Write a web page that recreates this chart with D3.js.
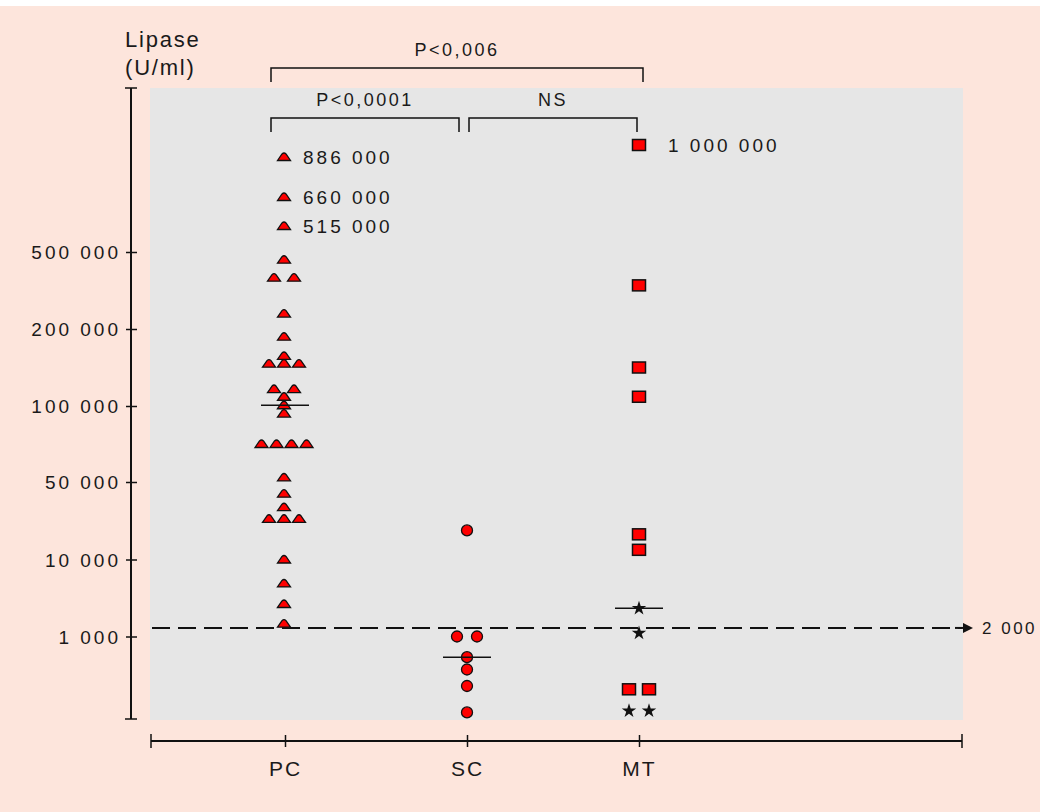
<!DOCTYPE html>
<html>
<head>
<meta charset="utf-8">
<script src="https://cdn.jsdelivr.net/npm/d3@7"></script>
<style>
  body { margin: 0; background: #fff; }
  svg text { font-family: "Liberation Sans", Arial, sans-serif; fill: #1a1a1a; }
</style>
</head>
<body>
<div id="chart"></div>
<script>
const groups = ['PC', 'SC', 'MT'];
const pcValues = [886000, 660000, 515000, 470000, 400000, 400000, 260000, 190000, 165000,
  155000, 155000, 155000, 122000, 122000, 112000, 101000, 95000, 75000, 75000, 75000, 75000,
  53000, 44000, 37000, 31000, 31000, 31000, 10000, 7200, 4800, 2500];
const scValues = [25000, 1000, 1000, 750, 600, 400, 80];
const mtSquares = [1000000, 370000, 150000, 112000, 23000, 15000, 360, 360];
const mtStars = [4300, 1400, 100, 100];
const medians = [101000, 750, 4300];
const yTicks = [1000, 10000, 50000, 100000, 200000, 500000];
const pcLabelled = [886000, 660000, 515000];
const mtLabelled = [1000000];
const cutoff = 2000;
const comparisons = [
  { from: 'PC', to: 'MT', text: 'P<0,006', level: 0 },
  { from: 'PC', to: 'SC', text: 'P<0,0001', level: 1 },
  { from: 'SC', to: 'MT', text: 'NS', level: 1 }
];

const W = 1040, H = 812;
const svg = d3.select('#chart').append('svg')
  .attr('width', W).attr('height', H);

// pink page + grey plot panel
svg.append('rect').attr('x', 0).attr('y', 6).attr('width', W).attr('height', H - 6).attr('fill', '#fde5dc');
svg.append('rect').attr('x', 150).attr('y', 88).attr('width', 813).attr('height', 632).attr('fill', '#e6e6e6');

// broken, piecewise axis: equal steps between ticks, squeezed above 500 000
const y = d3.scaleLinear()
  .domain([0, 1000, 10000, 50000, 100000, 200000, 500000, 515000, 660000, 886000, 1000000])
  .range([719, 636.5, 559.5, 482, 406, 329, 252, 226, 197, 157, 145]);

// group columns are not evenly spaced on the original axis
const x = d3.scaleOrdinal()
  .domain(groups)
  .range([285, 467, 639]);

const fmt = v => d3.format(',')(v).replace(/,/g, ' ');

// y axis
const axisX = 131;
const yAxis = svg.append('g')
  .attr('transform', `translate(${axisX},0)`)
  .call(d3.axisLeft(y).tickValues(yTicks).tickFormat(fmt).tickSizeInner(5).tickSizeOuter(0).tickPadding(5));
yAxis.select('.domain').remove();
yAxis.selectAll('.tick line').attr('x1', -5).attr('x2', 6).attr('stroke', '#111').attr('stroke-width', 1.5);
yAxis.selectAll('.tick text')
  .attr('font-size', 19).attr('letter-spacing', '3px').attr('dy', '0.35em').attr('fill', '#1a1a1a');
yAxis.append('line').attr('x1', 0).attr('x2', 0).attr('y1', 88).attr('y2', 719)
  .attr('stroke', '#111').attr('stroke-width', 2);
[88, 719].forEach(v => {
  yAxis.append('line').attr('x1', -6).attr('x2', 6).attr('y1', v).attr('y2', v)
    .attr('stroke', '#111').attr('stroke-width', 1.5);
});

svg.append('text').attr('x', 125).attr('y', 47).attr('font-size', 22).attr('letter-spacing', '1.8px').text('Lipase');
svg.append('text').attr('x', 125).attr('y', 75).attr('font-size', 22).attr('letter-spacing', '1.8px').text('(U/ml)');

// x axis
const xAxisY = 741;
const xAxis = svg.append('g')
  .attr('transform', `translate(0,${xAxisY})`)
  .call(d3.axisBottom(x).tickSizeInner(6).tickSizeOuter(0).tickPadding(14));
xAxis.select('.domain').remove();
xAxis.selectAll('.tick line').attr('y1', -6).attr('y2', 6).attr('stroke', '#111').attr('stroke-width', 1.5);
xAxis.selectAll('.tick text').attr('font-size', 21).attr('letter-spacing', '2px').attr('fill', '#1a1a1a');
xAxis.append('line').attr('x1', 151).attr('x2', 962).attr('y1', 0).attr('y2', 0)
  .attr('stroke', '#111').attr('stroke-width', 2);
[151, 962].forEach(v => {
  xAxis.append('line').attr('x1', v).attr('x2', v).attr('y1', -7).attr('y2', 7)
    .attr('stroke', '#111').attr('stroke-width', 1.5);
});

// cutoff line at 2 000
svg.append('defs').append('marker')
  .attr('id', 'arrow').attr('viewBox', '0 0 10 10').attr('refX', 0).attr('refY', 5)
  .attr('markerWidth', 5).attr('markerHeight', 5).attr('markerUnits', 'strokeWidth')
  .attr('orient', 'auto')
  .append('path').attr('d', 'M0,0L10,5L0,10Z').attr('fill', '#111');
svg.append('line')
  .attr('x1', 152).attr('x2', 962)
  .attr('y1', y(cutoff)).attr('y2', y(cutoff))
  .attr('stroke', '#111').attr('stroke-width', 2)
  .attr('stroke-dasharray', '18,8');
svg.append('line')
  .attr('x1', 955).attr('x2', 963)
  .attr('y1', y(cutoff)).attr('y2', y(cutoff))
  .attr('stroke', '#111').attr('stroke-width', 2)
  .attr('marker-end', 'url(#arrow)');
svg.append('text').attr('x', 982).attr('y', y(cutoff)).attr('dy', '0.35em')
  .attr('font-size', 17).attr('letter-spacing', '2.5px').text(fmt(cutoff));

// spread equal values side by side
function spread(values, group) {
  const seen = {};
  const counts = d3.rollup(values, v => v.length, d => d);
  return values.map(v => {
    const n = counts.get(v);
    const i = seen[v] = (seen[v] === undefined ? 0 : seen[v] + 1);
    const step = n === 2 ? 20 : 15;
    return { value: v, cx: x(group) + (i - (n - 1) / 2) * step };
  });
}

const marks = svg.append('g');

// PC triangles
marks.selectAll('.tri')
  .data(spread(pcValues, 'PC'))
  .enter().append('path')
  .attr('class', 'tri')
  .attr('transform', d => `translate(${d.cx - 1},${y(d.value)})`)
  .attr('d', 'M-6.5,3.5L-2,-3Q0,-5 2,-3L6.5,3.5Z')
  .attr('fill', '#ff0000').attr('stroke', '#111').attr('stroke-width', 1.3);

// SC circles
marks.selectAll('.dot')
  .data(spread(scValues, 'SC'))
  .enter().append('circle')
  .attr('class', 'dot')
  .attr('cx', d => d.cx).attr('cy', d => y(d.value)).attr('r', 5.5)
  .attr('fill', '#ff0000').attr('stroke', '#111').attr('stroke-width', 1.3);

// MT squares and stars
marks.selectAll('.sq')
  .data(spread(mtSquares, 'MT'))
  .enter().append('rect')
  .attr('class', 'sq')
  .attr('x', d => d.cx - 6.5).attr('y', d => y(d.value) - 5.5)
  .attr('width', 13).attr('height', 11)
  .attr('fill', '#ff0000').attr('stroke', '#111').attr('stroke-width', 1.5);

marks.selectAll('.star')
  .data(spread(mtStars, 'MT'))
  .enter().append('path')
  .attr('class', 'star')
  .attr('transform', d => `translate(${d.cx},${y(d.value)})`)
  .attr('d', d3.symbol(d3.symbolStar, 65))
  .attr('fill', '#111');

// medians
marks.selectAll('.median')
  .data(medians)
  .enter().append('line')
  .attr('class', 'median')
  .attr('x1', (d, i) => x(groups[i]) - 24).attr('x2', (d, i) => x(groups[i]) + 24)
  .attr('y1', d => y(d)).attr('y2', d => y(d))
  .attr('stroke', '#111').attr('stroke-width', 1.5);

// value labels on the top outliers
const valueLabels = pcLabelled.map(v => ({ value: v, lx: x('PC') + 18 }))
  .concat(mtLabelled.map(v => ({ value: v, lx: x('MT') + 29 })));
svg.selectAll('.vlabel')
  .data(valueLabels)
  .enter().append('text')
  .attr('class', 'vlabel')
  .attr('x', d => d.lx).attr('y', d => y(d.value)).attr('dy', '0.35em')
  .attr('font-size', 19).attr('letter-spacing', '3px')
  .text(d => fmt(d.value));

// significance brackets
const bracketY = [68, 118];
comparisons.forEach(c => {
  const left = c.from === 'SC' ? x(c.from) + 2 : x(c.from) - 14;
  const right = c.to === 'SC' ? x(c.to) - 8 : x(c.to) + (c.level === 0 ? 4 : -2);
  const by = bracketY[c.level];
  svg.append('path')
    .attr('d', `M${left},${by + 14}V${by}H${right}V${by + 14}`)
    .attr('fill', 'none').attr('stroke', '#111').attr('stroke-width', 1.5);
  svg.append('text')
    .attr('x', (left + right) / 2).attr('y', by - 12)
    .attr('text-anchor', 'middle')
    .attr('font-size', 18).attr('letter-spacing', '2.5px')
    .text(c.text);
});
</script>
</body>
</html>
